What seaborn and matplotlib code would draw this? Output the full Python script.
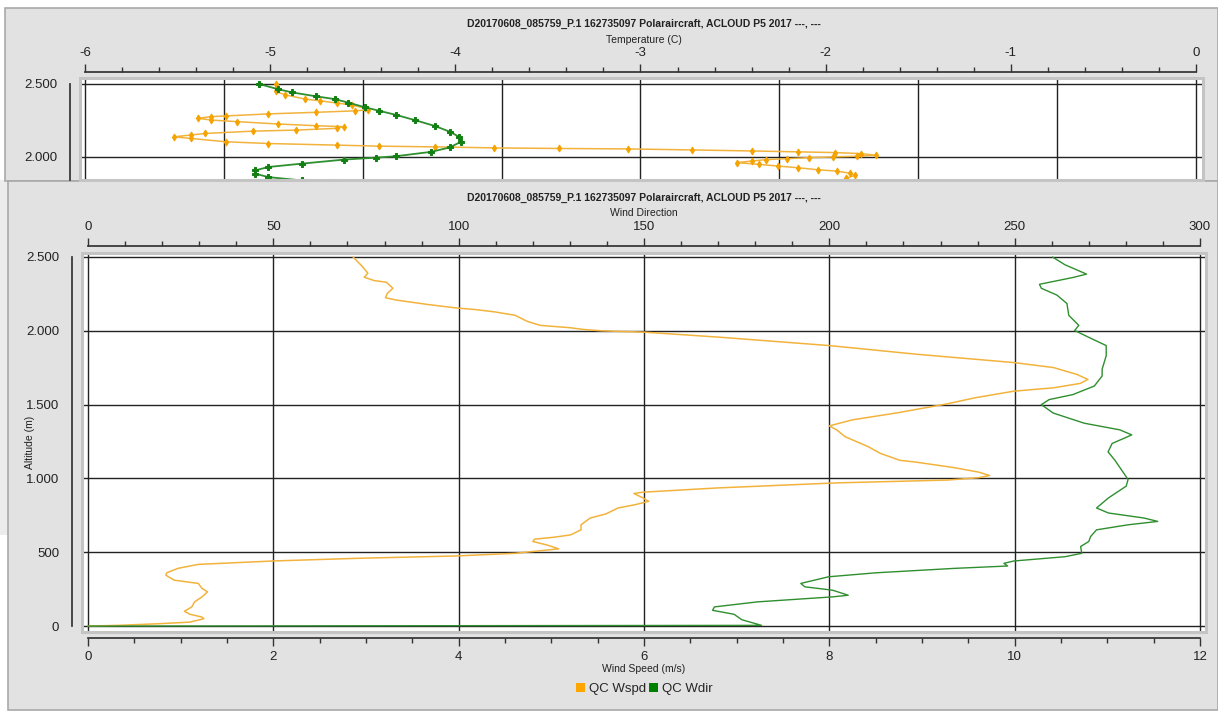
import matplotlib
matplotlib.use("Agg")
import matplotlib.pyplot as plt
import seaborn as sns
from matplotlib.patches import Rectangle, Patch
from matplotlib.ticker import MultipleLocator, FuncFormatter

W, H = 1218, 713
TITLE = "D20170608_085759_P.1 162735097 Polaraircraft, ACLOUD P5 2017 ---, ---"

# --- top panel: temperature profiles (partly hidden behind the wind panel)
temp_green_alt = [2500, 2465, 2442, 2415, 2396, 2373, 2341, 2316, 2288, 2253, 2212, 2173, 2138,
                  2104, 2065, 2035, 2005, 1995, 1982, 1954, 1931, 1908, 1885, 1862, 1839, 1825]
temp_green = [-5.06, -4.96, -4.88, -4.75, -4.65, -4.58, -4.49, -4.41, -4.32, -4.22, -4.11, -4.03, -3.98,
              -3.97, -4.03, -4.13, -4.32, -4.43, -4.60, -4.83, -5.01, -5.08, -5.08, -5.01, -4.83, -4.65]

temp_orange_alt = [2500, 2449, 2426, 2396, 2385, 2369, 2357, 2334, 2323, 2316,
                   2306, 2295, 2281, 2276, 2265, 2253, 2242, 2226, 2214, 2207,
                   2196, 2184, 2177, 2161, 2150, 2138, 2127, 2104, 2092, 2081,
                   2074, 2069, 2062, 2058, 2055, 2048, 2041, 2035, 2030, 2023,
                   2012, 2005, 2000, 1995, 1988, 1982, 1972, 1961, 1949, 1938,
                   1926, 1912, 1903, 1889, 1873, 1855]
temp_orange = [-4.97, -4.97, -4.92, -4.81, -4.73, -4.64, -4.56, -4.49, -4.47, -4.54,
               -4.75, -5.01, -5.24, -5.32, -5.39, -5.32, -5.18, -4.96, -4.75, -4.60,
               -4.64, -4.86, -5.09, -5.35, -5.43, -5.52, -5.43, -5.24, -5.01, -4.64,
               -4.41, -4.11, -3.79, -3.44, -3.07, -2.72, -2.40, -2.15, -1.95, -1.81,
               -1.73, -1.83, -1.96, -2.09, -2.21, -2.32, -2.40, -2.48, -2.36, -2.26,
               -2.15, -2.04, -1.94, -1.87, -1.84, -1.89]

# --- bottom panel: wind speed (m/s) and wind direction (deg)
wspd_alt = [2500, 2436, 2390, 2363, 2340, 2329, 2288, 2253, 2224, 2208, 2178, 2155, 2144, 2128,
            2105, 2064, 2037, 2021, 2009, 2000, 1991, 1957, 1900, 1842, 1785, 1751, 1705, 1671,
            1644, 1614, 1591, 1546, 1505, 1443, 1397, 1356, 1329, 1283, 1215, 1170, 1123, 1111,
            1073, 1043, 1020, 1005, 989, 970, 936, 907, 898, 868, 845, 823, 800, 760, 732, 686,
            652, 618, 602, 589, 573, 550, 523, 509, 493, 475, 459, 441, 418, 391, 361, 345, 311,
            289, 255, 232, 198, 164, 130, 100, 80, 61, 50, 27, 16, 5, 0]
wspd = [2.86, 2.96, 3.02, 2.98, 3.09, 3.22, 3.29, 3.23, 3.21, 3.33, 3.67, 3.97, 4.18, 4.39,
        4.61, 4.74, 4.88, 5.20, 5.35, 5.54, 6.00, 6.81, 8.00, 8.93, 9.99, 10.42, 10.67, 10.79,
        10.71, 10.42, 9.99, 9.57, 9.27, 8.72, 8.25, 8.00, 8.08, 8.17, 8.42, 8.55, 8.76, 8.93,
        9.35, 9.61, 9.73, 9.61, 9.27, 8.08, 6.80, 5.99, 5.89, 5.99, 6.05, 5.91, 5.72, 5.59, 5.42, 5.32,
        5.32, 5.21, 5.03, 4.82, 4.80, 4.95, 5.08, 4.86, 4.61, 3.97, 2.90, 2.00, 1.19, 0.97, 0.85, 0.84, 0.93,
        1.19, 1.23, 1.29, 1.23, 1.15, 1.12, 1.04, 1.10, 1.23, 1.25, 1.10, 0.76, 0.33, 0.0]

wdir_alt = [2500, 2447, 2384, 2361, 2315, 2288, 2242, 2185, 2105, 2037, 2002, 1957, 1900, 1831,
            1740, 1694, 1626, 1568, 1534, 1500, 1443, 1374, 1329, 1295, 1237, 1180, 1125, 993,
            948, 868, 800, 766, 732, 709, 686, 652, 607, 573, 539, 493, 470, 441, 425, 407, 391,
            361, 334, 289, 266, 243, 209, 198, 164, 130, 107, 80, 43, 5, 0]
wdir = [260.2, 263.6, 269.4, 265.7, 256.7, 257.2, 261.4, 264.1, 264.6, 267.3, 266.2, 269.9, 274.7, 274.7,
        273.6, 273.6, 271.5, 265.7, 259.3, 257.2, 260.4, 268.8, 278.4, 281.6, 276.3, 275.2, 277.0, 280.6,
        280.1, 275.3, 272.1, 275.3, 284.9, 288.6, 280.6, 272.1, 270.5, 270.0, 267.8, 268.1, 263.6, 249.8,
        247.1, 248.1, 233.8, 212.6, 199.8, 192.3, 193.4, 200.9, 205.1, 200.9, 180.6, 169.0, 168.5, 174.3,
        176.4, 181.7, 0.0]

ORANGE_LINE = "#f2b33d"
ORANGE_MARK = "#f5a300"
GREEN_LINE = "#2f8f2f"
GREEN_MARK = "#138013"
PANEL = "#e2e2e2"
FRAME = "#c4c4c4"


def box(l, t, r, b):
    return [l / W, 1 - b / H, (r - l) / W, (b - t) / H]


def thousands(v, pos):
    return f"{int(round(v)):,}".replace(",", ".")


def style_axis(ax):
    ax.set_facecolor("white")
    for s in ax.spines.values():
        s.set_visible(False)
    ax.add_patch(Rectangle((0, 0), 1, 1, transform=ax.transAxes, fill=False,
                           edgecolor=FRAME, lw=2.2, clip_on=False, zorder=5))
    ax.tick_params(which="major", length=6, width=1, color="#333333", labelsize=9.5,
                   labelcolor="#222222", direction="out")
    ax.tick_params(which="minor", length=3.5, width=1, color="#333333", direction="out")


sns.set_theme(style="white")
plt.rcParams["font.family"] = ["Liberation Sans", "DejaVu Sans"]
plt.rcParams["axes.unicode_minus"] = False

fig = plt.figure(figsize=(W / 100, H / 100), dpi=100)
fig.patch.set_facecolor("white")

# window backgrounds
fig.patches.append(Rectangle((0, 1 - 535 / H), 9 / W, (535 - 180) / H, transform=fig.transFigure,
                             facecolor="#ececec", edgecolor="none", zorder=-10))
fig.patches.append(Rectangle((5 / W, 1 - 181 / H), (1218 - 5) / W, (181 - 8) / H, transform=fig.transFigure,
                             facecolor=PANEL, edgecolor="#a9a9a9", lw=1.2, zorder=-10))
fig.patches.append(Rectangle((8 / W, 1 - 710 / H), (1218 - 8) / W, (710 - 181) / H, transform=fig.transFigure,
                             facecolor=PANEL, edgecolor="#a9a9a9", lw=1.2, zorder=-9))

# ---------------- top panel (temperature)
ax_t = fig.add_axes(box(80, 78, 1203, 180))
style_axis(ax_t)
sns.lineplot(x=temp_orange, y=temp_orange_alt, sort=False, estimator=None, ax=ax_t,
             color=ORANGE_LINE, lw=1.1, marker="d", markersize=3.5,
             markerfacecolor=ORANGE_MARK, markeredgecolor=ORANGE_MARK, zorder=3)
sns.lineplot(x=temp_green, y=temp_green_alt, sort=False, estimator=None, ax=ax_t,
             color=GREEN_LINE, lw=1.3, marker="P", markersize=4.5,
             markerfacecolor=GREEN_MARK, markeredgecolor=GREEN_MARK, zorder=4)
ax_t.set_xlim(-6.027, 0.038)
ax_t.set_ylim(1842, 2541)
for gx in [-6, -5.25, -4.5, -3.75, -3, -2.25, -1.5, -0.75, 0]:
    ax_t.axvline(gx, color="#222222", lw=1, zorder=1)
for gy in [2000, 2500]:
    ax_t.axhline(gy, color="#222222", lw=1, zorder=1)
ax_t.xaxis.tick_top()
ax_t.spines["top"].set_visible(True)
ax_t.spines["top"].set_position(("outward", 4))
ax_t.spines["top"].set_bounds(-6, 0)
ax_t.spines["top"].set_color("#333333")
ax_t.spines["left"].set_visible(True)
ax_t.spines["left"].set_position(("outward", 7))
ax_t.spines["left"].set_bounds(1842, 2500)
ax_t.spines["left"].set_color("#333333")
ax_t.set_xticks(range(-6, 1))
ax_t.xaxis.set_minor_locator(MultipleLocator(0.2))
ax_t.set_yticks([2000, 2500])
ax_t.yaxis.set_minor_locator(MultipleLocator(100))
ax_t.yaxis.set_major_formatter(FuncFormatter(thousands))
ax_t.set_xlabel("")
ax_t.set_ylabel("")
fig.text(644 / W, 1 - 24 / H, TITLE, ha="center", va="center", fontsize=7.5, fontweight="bold", color="#222222")
fig.text(644 / W, 1 - 40 / H, "Temperature (C)", ha="center", va="center", fontsize=7.5, color="#222222")

# ---------------- bottom panel (wind)
ax = fig.add_axes(box(82, 253, 1206, 632))
style_axis(ax)
ax.set_xlim(-0.065, 12.065)
ax.set_ylim(-40, 2527)
ax.grid(True, which="major", color="#222222", lw=1)
ax.set_axisbelow(True)
sns.lineplot(x=wspd, y=wspd_alt, sort=False, estimator=None, ax=ax,
             color=ORANGE_LINE, lw=1.1, zorder=3)
ax.set_xticks(range(0, 13, 2))
ax.xaxis.set_minor_locator(MultipleLocator(0.5))
ax.set_yticks(range(0, 2501, 500))
ax.yaxis.set_minor_locator(MultipleLocator(100))
ax.yaxis.set_major_formatter(FuncFormatter(thousands))
ax.spines["bottom"].set_visible(True)
ax.spines["bottom"].set_position(("outward", 4))
ax.spines["bottom"].set_bounds(0, 12)
ax.spines["bottom"].set_color("#333333")
ax.spines["left"].set_visible(True)
ax.spines["left"].set_position(("outward", 7))
ax.spines["left"].set_bounds(0, 2500)
ax.spines["left"].set_color("#333333")
ax.set_xlabel("")
ax.set_ylabel("")

ax_d = ax.twiny()
for s in ax_d.spines.values():
    s.set_visible(False)
ax_d.set_xlim(-0.065 * 25, 12.065 * 25)
sns.lineplot(x=wdir, y=wdir_alt, sort=False, estimator=None, ax=ax_d,
             color=GREEN_LINE, lw=1.0, zorder=3)
ax_d.set_xticks(range(0, 301, 50))
ax_d.xaxis.set_minor_locator(MultipleLocator(10))
ax_d.tick_params(which="major", length=6, width=1, color="#333333", labelsize=9.5, labelcolor="#222222")
ax_d.tick_params(which="minor", length=3.5, width=1, color="#333333")
ax_d.spines["top"].set_visible(True)
ax_d.spines["top"].set_position(("outward", 5))
ax_d.spines["top"].set_bounds(0, 300)
ax_d.spines["top"].set_color("#333333")
ax_d.set_xlabel("")
ax_d.set_ylabel("")

fig.text(644 / W, 1 - 198 / H, TITLE, ha="center", va="center", fontsize=7.5, fontweight="bold", color="#222222")
fig.text(644 / W, 1 - 213 / H, "Wind Direction", ha="center", va="center", fontsize=7.5, color="#222222")
fig.text(644 / W, 1 - 669 / H, "Wind Speed (m/s)", ha="center", va="center", fontsize=7.5, color="#222222")
fig.text(30 / W, 1 - 442 / H, "Altitude (m)", ha="center", va="center", rotation=90, fontsize=7.5, color="#222222")

handles = [Patch(facecolor="#ffa500", edgecolor="none", label="QC Wspd"),
           Patch(facecolor="#008000", edgecolor="none", label="QC Wdir")]
fig.legend(handles=handles, loc="center", bbox_to_anchor=(644 / W, 1 - 689 / H), ncol=2, frameon=False,
           fontsize=9.5, handlelength=0.7, handleheight=0.7, handletextpad=0.3, columnspacing=0.2)

fig.savefig("out.png", dpi=100)
